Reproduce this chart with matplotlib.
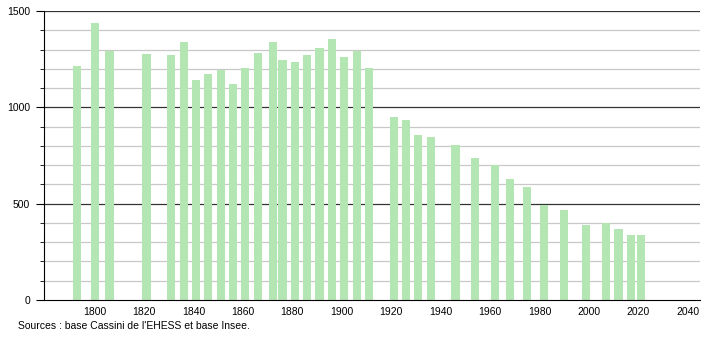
import matplotlib.pyplot as plt

# Population par année de recensement
annees = [1793, 1800, 1806, 1821, 1831, 1836, 1841, 1846, 1851, 1856,
          1861, 1866, 1872, 1876, 1881, 1886, 1891, 1896, 1901, 1906,
          1911, 1921, 1926, 1931, 1936, 1946, 1954, 1962, 1968, 1975,
          1982, 1990, 1999, 2007, 2012, 2017, 2021]
population = [1214, 1438, 1292, 1277, 1271, 1339, 1142, 1173, 1192, 1121,
              1203, 1284, 1339, 1246, 1235, 1271, 1310, 1353, 1261, 1292,
              1203, 950, 934, 856, 846, 804, 737, 699, 626, 585,
              491, 467, 389, 398, 368, 336, 337]
x_ticks = list(range(1800, 2041, 20))

plt.rcParams['font.family'] = ['Liberation Sans', 'DejaVu Sans']

fig = plt.figure(figsize=(7.1, 3.4), dpi=100)
ax = fig.add_axes([0.062, 0.1176, 0.924, 0.85])

# Grille : fine tous les 100, foncée tous les 500
for v in range(100, 1500, 100):
    if v % 500:
        ax.axhline(v, color='#c8c8c8', lw=0.9, zorder=0)
for v in (500, 1000, 1500):
    ax.axhline(v, color='#333333', lw=0.9, zorder=0)

ax.bar(annees, population, width=3.3, color='#b3e6b3', zorder=2)

ax.set_xlim(1779.5, 2045)
ax.set_ylim(0, 1500)
ax.set_xticks(x_ticks)
ax.set_yticks([0, 500, 1000, 1500])
ax.set_yticks(range(0, 1501, 100), minor=True)
ax.tick_params(axis='x', length=0, labelsize=7.5, pad=5)
ax.tick_params(axis='y', which='major', length=6, labelsize=7.5, pad=4)
ax.tick_params(axis='y', which='minor', length=3)
for s in ('top', 'right'):
    ax.spines[s].set_visible(False)
ax.spines['left'].set_color('black')
ax.spines['bottom'].set_color('black')

fig.text(0.025, 0.032, "Sources : base Cassini de l'EHESS et base Insee.", fontsize=7.5)

fig.savefig('out.png', dpi=100)
